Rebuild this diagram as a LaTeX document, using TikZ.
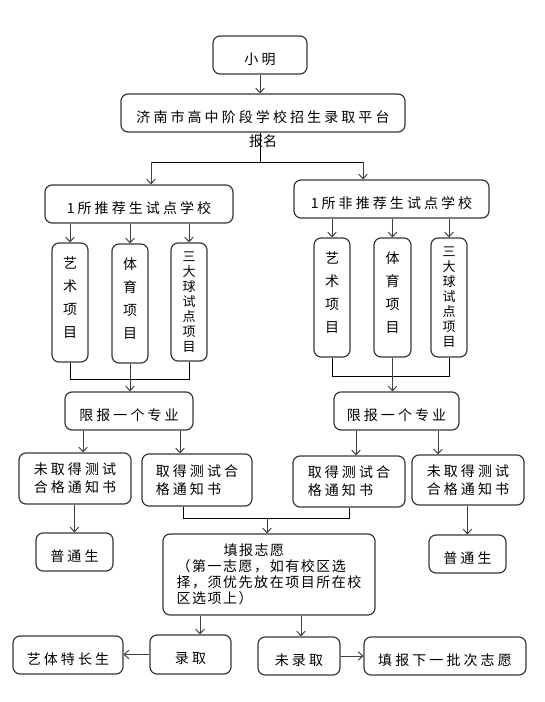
\documentclass[tikz,border=0pt]{standalone}
\usepackage{fontspec}
\setmainfont{Noto Sans CJK SC}[LetterSpace=22]
\newfontfamily\tightcjk{Noto Sans CJK SC}[LetterSpace=11]
\newfontfamily\plaincjk{Noto Sans CJK SC}
\usetikzlibrary{arrows.meta,calc}
\definecolor{boxc}{HTML}{383838}
\definecolor{arrc}{HTML}{404040}
\begin{document}
\begin{tikzpicture}[x=1pt,y=-1pt,
  bx/.style={draw=boxc, line width=1.2pt, rounded corners=7pt, inner sep=0pt, align=center,
    font=\fontsize{14pt}{18pt}\selectfont, text=black},
  low/.style={text height=18.5pt, text depth=0pt},
  vbx/.style={bx, font=\plaincjk\fontsize{14pt}{23pt}\selectfont, text depth=11.5pt},
  vbxs/.style={bx, font=\plaincjk\fontsize{13pt}{15pt}\selectfont},
  arr/.style={draw=arrc, line width=1pt, -{Straight Barb[length=4.5pt,width=8.5pt]}},
  ln/.style={draw=black, line width=1pt}]
\useasboundingbox (0,0) rectangle (544,702);
% boxes
\node[bx, low, minimum width=94, minimum height=38] (xm) at (260,55) {小明};
\node[bx, low, minimum width=284, minimum height=38] (pt) at (263,113) {济南市高中阶段学校招生录取平台};
\node[bx, low, minimum width=188, minimum height=38] (L1) at (139,204) {1所推荐生试点学校};
\node[bx, low, minimum width=195, minimum height=38] (R1) at (391.5,199) {1所非推荐生试点学校};
\node[vbx, minimum width=36, minimum height=119] (La) at (70,302.5) {艺\\术\\项\\目};
\node[vbx, minimum width=36, minimum height=119] (Lb) at (130,303.5) {体\\育\\项\\目};
\node[vbxs, minimum width=36, minimum height=118] (Lc) at (189,302) {三\\大\\球\\试\\点\\项\\目};
\node[vbx, minimum width=36, minimum height=119] (Ra) at (332,297.5) {艺\\术\\项\\目};
\node[vbx, minimum width=37, minimum height=119] (Rb) at (392.5,297.5) {体\\育\\项\\目};
\node[vbxs, minimum width=36, minimum height=119] (Rc) at (449,297.5) {三\\大\\球\\试\\点\\项\\目};
\node[bx, low, minimum width=128, minimum height=38] (Lx) at (129,411) {限报一个专业};
\node[bx, low, minimum width=125, minimum height=38] (Rx) at (396.5,411) {限报一个专业};
\node[bx, minimum width=112, minimum height=51, align=left] (Ln) at (75,478.5) {未取得测试\\合格通知书};
\node[bx, minimum width=110, minimum height=52, align=left] (Lq) at (197,480) {取得测试合\\格通知书};
\node[bx, minimum width=112, minimum height=51, align=left] (Rq) at (349,481.5) {取得测试合\\格通知书};
\node[bx, minimum width=112, minimum height=50, align=left] (Rn) at (468,480) {未取得测试\\合格通知书};
\node[bx, low, minimum width=77, minimum height=38] (Lp) at (74.5,552) {普通生};
\node[bx, low, minimum width=77, minimum height=38] (Rp) at (467.5,554) {普通生};
\node[bx, minimum width=212, minimum height=81, align=left,
  font=\tightcjk\fontsize{14pt}{16pt}\selectfont] (zy) at (269,574.5)
  {\hspace*{47pt}填报志愿\\（第一志愿，如有校区选\\择，须优先放在项目所在校\\区选项上）};
\node[bx, low, minimum width=110, minimum height=38] (ts) at (68,655) {艺体特长生};
\node[bx, low, minimum width=81, minimum height=39] (lq) at (190.5,654.5) {录取};
\node[bx, low, minimum width=82, minimum height=38] (wl) at (299,656) {未录取};
\node[bx, low, minimum width=162, minimum height=38] (xp) at (445,656) {填报下一批次志愿};
% connectors
\draw[arr] (xm.south) -- (xm.south |- pt.north);
\coordinate (j1) at (260,162);
\coordinate (j1l) at (151,162);
\coordinate (j1r) at (363,162);
\draw[ln] (j1 |- pt.south) -- (j1);
\draw[ln] (j1l) -- (j1r);
\draw[arr] (j1l) -- (j1l |- L1.north);
\draw[arr] (j1r) -- (j1r |- R1.north);
\node[inner sep=0pt, font=\plaincjk\fontsize{14pt}{16pt}\selectfont] (bm) at (263,141) {报名};
\foreach \n in {La,Lb,Lc} \draw[arr] (\n.north |- L1.south) -- (\n.north);
\foreach \n in {Ra,Rb,Rc} \draw[arr] (\n.north |- R1.south) -- (\n.north);
\coordinate (j2) at (130,379);
\draw[ln] (La.south) -- (La.south |- j2) -- (Lc.south |- j2) -- (Lc.south);
\draw[arr] (Lb.south) -- (Lb.south |- Lx.north);
\coordinate (j3) at (394,376);
\draw[ln] (Ra.south) -- (Ra.south |- j3) -- (Rc.south |- j3) -- (Rc.south);
\draw[arr] (Rb.south) -- (Rb.south |- Rx.north);
\path ([xshift=-46pt]Lx.south) coordinate (c1);
\path ([xshift=51pt]Lx.south) coordinate (c2);
\path ([xshift=-40.5pt]Rx.south) coordinate (c3);
\path ([xshift=41.5pt]Rx.south) coordinate (c4);
\draw[arr] (c1) -- (c1 |- Ln.north);
\draw[arr] (c2) -- (c2 |- Lq.north);
\draw[arr] (c3) -- (c3 |- Rq.north);
\draw[arr] (c4) -- (c4 |- Rn.north);
\draw[arr] (Lp.north |- Ln.south) -- (Lp.north);
\draw[arr] (Rp.north |- Rn.south) -- (Rp.north);
\coordinate (j4) at (267,518);
\path ([xshift=-14pt]Lq.south) coordinate (c5);
\draw[ln] (c5) -- (c5 |- j4) -- (Rq.south |- j4) -- (Rq.south);
\draw[arr] (j4) -- (j4 |- zy.north);
\path ([xshift=9.5pt]lq.north) coordinate (c6);
\path ([xshift=2pt]wl.north) coordinate (c7);
\draw[arr] (c6 |- zy.south) -- (c6);
\draw[arr] (c7 |- zy.south) -- (c7);
\draw[arr] (lq.west) -- (lq.west -| ts.east);
\draw[arr] (wl.east) -- (wl.east -| xp.west);
\end{tikzpicture}
\end{document}
